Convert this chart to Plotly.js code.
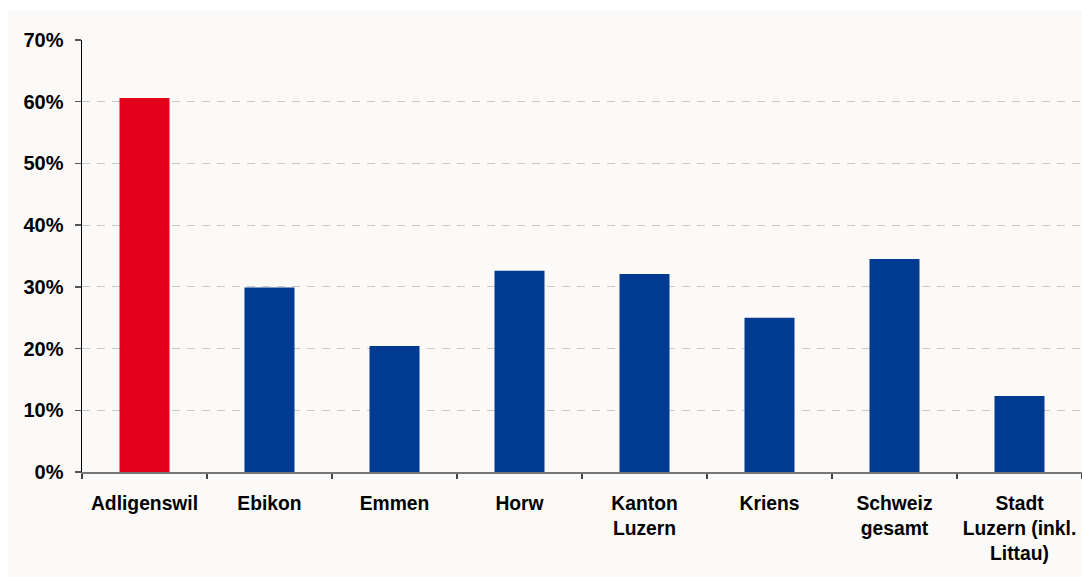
<!DOCTYPE html>
<html>
<head>
<meta charset="utf-8">
<script src="https://cdn.plot.ly/plotly-3.0.1.min.js"></script>
<style>
html,body{margin:0;padding:0;background:#ffffff;}
#chart{width:1082px;height:577px;}
</style>
</head>
<body>
<div id="chart"></div>
<script>
var categories = ["Adligenswil", "Ebikon", "Emmen", "Horw", "Kanton<br>Luzern", "Kriens", "Schweiz<br>gesamt", "Stadt<br>Luzern (inkl.<br>Littau)"];
var values = [0.606, 0.299, 0.204, 0.326, 0.321, 0.250, 0.345, 0.123];
var barColors = ["#e2001a", "#003a91", "#003a91", "#003a91", "#003a91", "#003a91", "#003a91", "#003a91"];
var yTicks = [0, 0.1, 0.2, 0.3, 0.4, 0.5, 0.6, 0.7];

var trace = {
  type: "bar",
  x: categories,
  y: values,
  marker: {color: barColors, line: {width: 0}},
  width: 0.4,
  hoverinfo: "x+y"
};

var fontFam = "Liberation Sans, Arial, sans-serif";
var layout = {
  width: 1082,
  height: 577,
  margin: {l: 82, r: 0, t: 40, b: 105, pad: 0},
  paper_bgcolor: "#ffffff",
  plot_bgcolor: "rgba(0,0,0,0)",
  showlegend: false,
  font: {family: fontFam, size: 19, color: "#000000"},
  xaxis: {
    type: "category",
    showline: true,
    linecolor: "#777777",
    linewidth: 2,
    ticks: "outside",
    tickson: "boundaries",
    ticklen: 5,
    tickwidth: 1.5,
    tickcolor: "#444444",
    showgrid: false,
    tickfont: {family: fontFam, size: 19.3, color: "#000000", weight: "bold"},
    ticklabelstandoff: 13,
    fixedrange: true
  },
  yaxis: {
    range: [0, 0.7],
    tickvals: yTicks,
    tickformat: ".0%",
    showline: true,
    linecolor: "#000000",
    linewidth: 1.5,
    ticks: "outside",
    ticklen: 6,
    tickwidth: 1.5,
    tickcolor: "#555555",
    showgrid: true,
    gridcolor: "#c8c8c8",
    gridwidth: 1,
    griddash: "8px,7px",
    zeroline: false,
    tickfont: {family: fontFam, size: 20, color: "#000000", weight: "bold"},
    ticklabelstandoff: 7,
    fixedrange: true
  },
  shapes: [{
    type: "rect",
    xref: "paper", yref: "paper",
    x0: -0.074, x1: 1.01,
    y0: -0.26, y1: 1.0671,
    fillcolor: "#fbfaf8",
    line: {width: 0},
    layer: "below"
  }]
};

Plotly.newPlot("chart", [trace], layout, {displayModeBar: false, staticPlot: true});
</script>
</body>
</html>
